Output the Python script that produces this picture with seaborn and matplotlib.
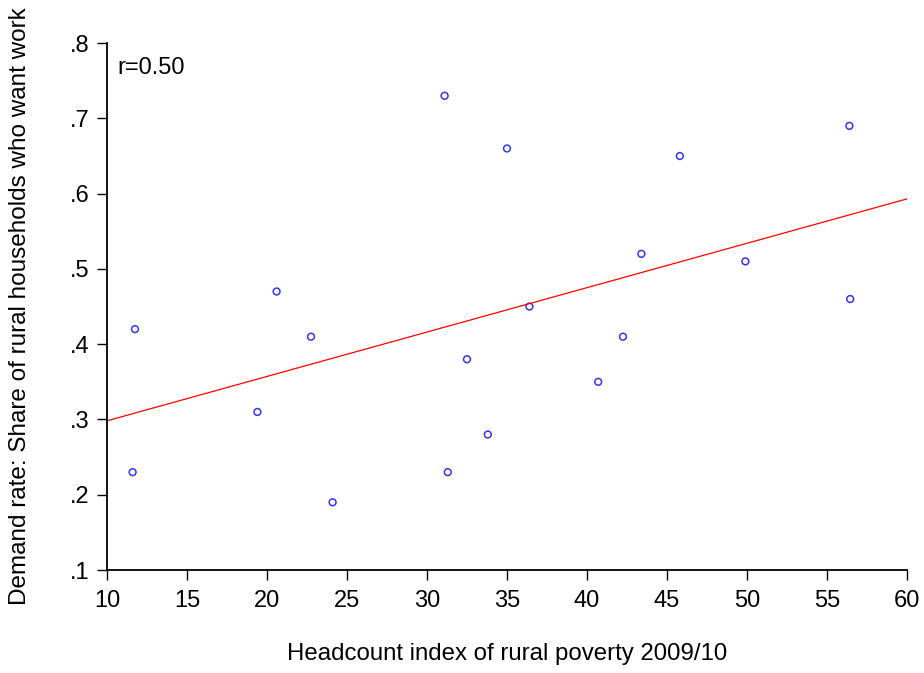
import matplotlib
matplotlib.use('Agg')
import matplotlib.pyplot as plt
import seaborn as sns
import pandas as pd

# Headcount poverty (x) vs demand rate (y)
poverty = [11.6, 11.75, 19.4, 20.6, 22.75, 24.1, 31.1, 31.3, 32.5, 33.8,
           35.0, 36.4, 40.7, 42.25, 43.4, 45.8, 49.9, 56.4, 56.45]
demand = [0.23, 0.42, 0.31, 0.47, 0.41, 0.19, 0.73, 0.23, 0.38, 0.28,
          0.66, 0.45, 0.35, 0.41, 0.52, 0.65, 0.51, 0.69, 0.46]
x_ticks = [10, 15, 20, 25, 30, 35, 40, 45, 50, 55, 60]
y_ticks = [0.1, 0.2, 0.3, 0.4, 0.5, 0.6, 0.7, 0.8]
y_tick_labels = ['.1', '.2', '.3', '.4', '.5', '.6', '.7', '.8']

df = pd.DataFrame({'poverty': poverty, 'demand': demand})

sns.set_style("ticks")
plt.rcParams['font.family'] = ['Liberation Sans', 'DejaVu Sans']
plt.rcParams['text.color'] = 'black'

fig = plt.figure(figsize=(9.24, 6.73), dpi=100)
ax = fig.add_axes([0.1158, 0.153, 0.8658, 0.783])
ax.set_xlim(10, 60)
ax.set_ylim(0.1, 0.8)

sns.regplot(data=df, x='poverty', y='demand', ax=ax, ci=None, truncate=False,
            scatter_kws={'s': 24, 'facecolors': 'none', 'edgecolors': 'blue', 'linewidths': 1.1},
            line_kws={'color': 'red', 'linewidth': 0.9})

ax.set_xlim(10, 60)
ax.set_ylim(0.1, 0.8)
ax.set_xticks(x_ticks)
ax.set_yticks(y_ticks)
ax.set_yticklabels(y_tick_labels)
ax.tick_params(labelsize=17, length=7.5, width=1, direction='out',
               colors='black', labelcolor='black')
ax.tick_params(axis='x', pad=7)
ax.tick_params(axis='y', pad=5)
ax.set_xlabel('Headcount index of rural poverty 2009/10', fontsize=17.3,
              labelpad=22, color='black')
ax.set_ylabel('Demand rate: Share of rural households who want work', fontsize=17.5,
              labelpad=28, color='black')
ax.text(0.013, 0.953, 'r=0.50', transform=ax.transAxes, fontsize=17, va='center',
        color='black')

sns.despine(ax=ax)
for s in ['left', 'bottom']:
    ax.spines[s].set_linewidth(1.3)
    ax.spines[s].set_color('black')

fig.savefig('out.png', dpi=100)
